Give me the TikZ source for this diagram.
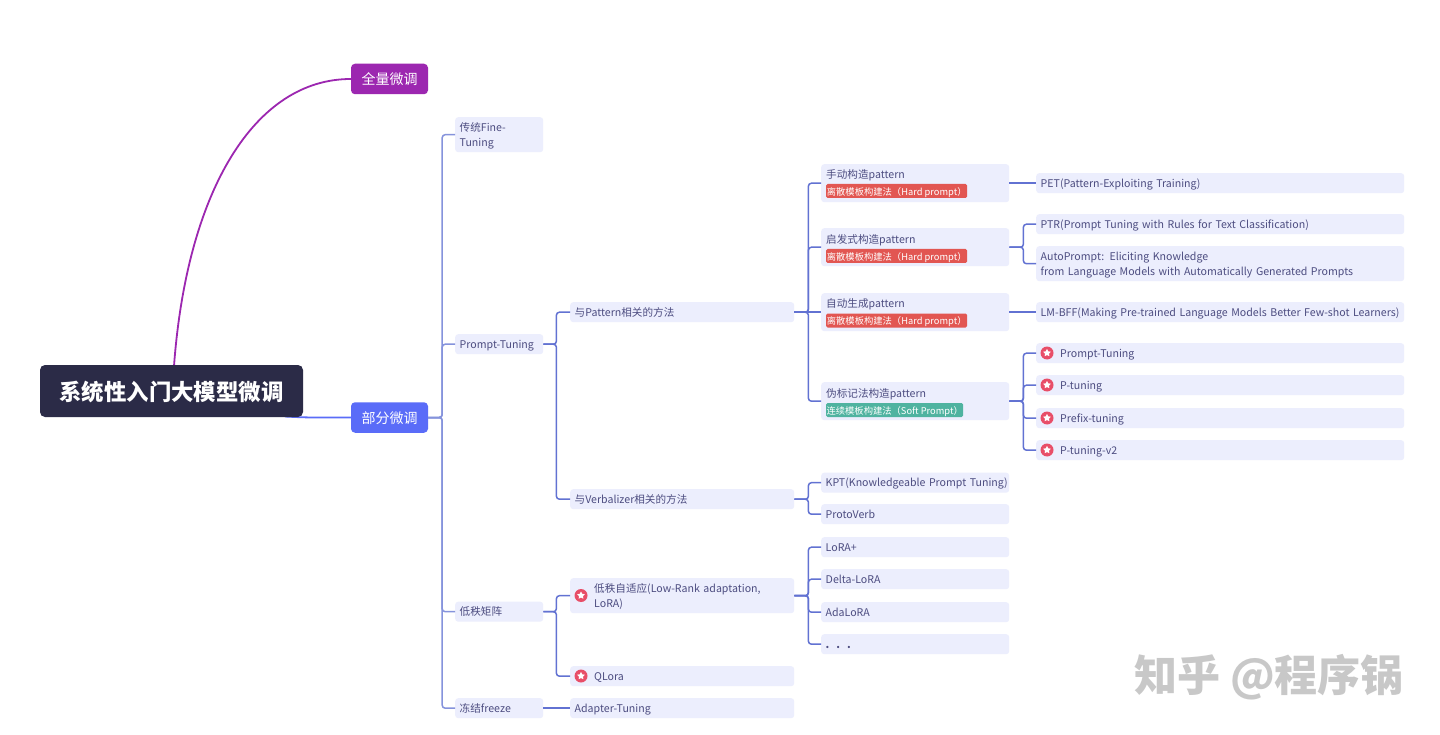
\documentclass[tikz,border=0pt]{standalone}
\usepackage{fontspec}
\setmainfont{Noto Sans CJK SC}
\usetikzlibrary{shapes.geometric}
\definecolor{boxfill}{HTML}{ECEEFD}
\definecolor{inktext}{HTML}{4C4C80}
\definecolor{rootdark}{HTML}{2B2B47}
\definecolor{purplemain}{HTML}{9C27B0}
\definecolor{bluemain}{HTML}{5A6CF8}
\definecolor{linec}{HTML}{6272D2}
\definecolor{trunkc}{HTML}{8593DC}
\definecolor{redtag}{HTML}{E25652}
\definecolor{greentag}{HTML}{4FB3A0}
\definecolor{iconred}{HTML}{E84E68}
\definecolor{markgray}{HTML}{C8C8C8}
\newcommand{\ico}{\hspace*{19.5pt}}
\newcommand{\strt}{\lineskiplimit=-10pt\relax\leavevmode\vrule height 11pt depth 3pt width 0pt\relax}
\newcommand{\brk}[3]{\draw[branch] (#1.east) -- ++(#3,0) |- (#2.west);}
\newcommand{\str}[2]{\draw[branch] (#1.east) -- (#2.west);}
\tikzset{
  x=1pt,y=-1pt,
  box/.style={fill=boxfill,rounded corners=3pt,anchor=north west,inner xsep=4.5pt,inner ysep=0pt,
    align=left,text=inktext,font=\fontsize{10.6}{14.5}\selectfont},
  lvb/.style={box,text width=79pt,minimum height=20pt},
  lvc/.style={box,text width=215pt,minimum height=20pt},
  lvd/.style={box,text width=179pt,minimum height=20pt},
  lve/.style={box,text width=359pt,minimum height=20pt},
  main/.style={rounded corners=4pt,text=white,minimum width=77pt,minimum height=30.5pt,inner sep=0pt,
    text height=13pt,text depth=2pt,font=\fontsize{14}{16}\selectfont},
  tagbox/.style={rounded corners=1.5pt,text=white,anchor=west,inner sep=0pt,minimum height=14pt,
    text height=9.7pt,text depth=1pt,font=\fontsize{9.3}{11}\selectfont},
  lab/.style={anchor=west,inner sep=0pt,text=inktext,font=\fontsize{10.6}{14}\selectfont},
  branch/.style={draw=linec,line width=1.5pt,rounded corners=3pt},
  trunk/.style={draw=trunkc,line width=1.5pt,rounded corners=3pt},
  icondisc/.style={circle,fill=iconred,minimum size=13pt,inner sep=0pt},
  iconstar/.style={star,star points=5,star point ratio=1.9,fill=white,minimum size=8pt,inner sep=0pt},
}
\begin{document}
\begin{tikzpicture}
\useasboundingbox[fill=white] (0,0) rectangle (1440,735);
% root and main branches
\coordinate (rt) at (174,366);
\coordinate (rb) at (285,416.5);
\node[main,fill=purplemain] (all) at (389.5,79) {全量微调};
\node[main,fill=bluemain] (part) at (389.5,417.5) {部分微调};
\draw[draw=purplemain,line width=1.8pt] (rt) .. controls (187,190) and (255,79) .. (all.west);
\draw[draw=bluemain,line width=1.8pt] (rb) .. controls (310,418) and (330,417.5) .. (part.west);
\node[rounded corners=5pt,fill=rootdark,text=white,minimum width=263pt,minimum height=52pt,inner sep=0pt,
  text height=21pt,text depth=3pt,font=\fontsize{22.4}{26}\selectfont\bfseries] (root) at (171.5,391) {系统性入门大模型微调};
% level 2
\node[lvb,minimum height=35pt] (ft) at (455,117) {\strt 传统Fine-\\Tuning};
\node[lvb] (pt) at (455,334) {\strt Prompt-Tuning};
\node[lvb] (lr) at (455,601.5) {\strt 低秩矩阵};
\node[lvb] (fz) at (455,698) {\strt 冻结freeze};
% level 3
\node[lvc] (pat) at (570,302) {\strt 与Pattern相关的方法};
\node[lvc] (ver) at (570,489) {\strt 与Verbalizer相关的方法};
\node[lvc,minimum height=35pt] (lra) at (570,578) {\strt\ico 低秩自适应(Low-Rank adaptation,\\\ico LoRA)};
\node[lvc] (ql) at (570,666) {\strt\ico QLora};
\node[lvc] (ad) at (570,698) {\strt Adapter-Tuning};
% level 4
\node[lvd,minimum height=38pt] (m1) at (821,164) {};
\node[lab] (m1l) at (826,175) {手动构造pattern};
\node[tagbox,fill=redtag,minimum width=141pt] (m1t) at (826,191) {离散模板构建法（Hard prompt）};
\node[lvd,minimum height=38pt] (m2) at (821,228) {};
\node[lab] (m2l) at (826,240) {启发式构造pattern};
\node[tagbox,fill=redtag,minimum width=141pt] (m2t) at (826,256) {离散模板构建法（Hard prompt）};
\node[lvd,minimum height=38pt] (m3) at (821,293) {};
\node[lab] (m3l) at (826,304) {自动生成pattern};
\node[tagbox,fill=redtag,minimum width=141pt] (m3t) at (826,320.5) {离散模板构建法（Hard prompt）};
\node[lvd,minimum height=38pt] (m4) at (821,382) {};
\node[lab] (m4l) at (826,394) {伪标记法构造pattern};
\node[tagbox,fill=greentag,minimum width=137pt] (m4t) at (826,410) {连续模板构建法（Soft Prompt）};
\node[lvd] (kpt) at (821,472.5) {\strt\mbox{KPT(Knowledgeable Prompt Tuning)}};
\node[lvd] (pv) at (821,504) {\strt ProtoVerb};
\node[lvd] (l1) at (821,537) {\strt LoRA+};
\node[lvd] (l2) at (821,569) {\strt Delta-LoRA};
\node[lvd] (l3) at (821,602) {\strt AdaLoRA};
\node[lvd] (l4) at (821,634) {\strt\textbf{.}\hspace{7pt}\textbf{.}\hspace{7pt}\textbf{.}};
% level 5
\node[lve] (pet) at (1036,173) {\strt PET(Pattern-Exploiting Training)};
\node[lve] (ptr) at (1036,214) {\strt PTR(Prompt Tuning with Rules for Text Classification)};
\node[lve,minimum height=35pt] (ap) at (1036,246) {\strt AutoPrompt: Eliciting Knowledge\\from Language Models with Automatically Generated Prompts};
\node[lve] (lm) at (1036,302) {\strt\mbox{LM-BFF(Making Pre-trained Language Models Better Few-shot Learners)}};
\node[lve] (s1) at (1036,343) {\strt\ico Prompt-Tuning};
\node[lve] (s2) at (1036,375) {\strt\ico P-tuning};
\node[lve] (s3) at (1036,408) {\strt\ico Prefix-tuning};
\node[lve] (s4) at (1036,440) {\strt\ico P-tuning-v2};
% icons
\foreach \nm/\px/\py in {ia/581/595.5,ib/581/676,ic/1047/353,id/1047/385,ie/1047/418,if/1047/450}{
  \node[icondisc] (\nm) at (\px,\py) {};
  \node[iconstar] at (\nm) {};
}
% connectors
\draw[trunk] (part.east) -- ++(14,0) |- (ft.west);
\draw[trunk] (part.east) -- ++(14,0) |- (pt.west);
\draw[trunk] (part.east) -- ++(14,0) |- (lr.west);
\draw[trunk] (part.east) -- ++(14,0) |- (fz.west);
\brk{pt}{pat}{13}
\brk{pt}{ver}{13}
\brk{lr}{lra}{13}
\brk{lr}{ql}{13}
\str{fz}{ad}
\brk{pat}{m1}{14}
\brk{pat}{m2}{14}
\brk{pat}{m4}{14}
\str{pat}{m3}
\brk{ver}{kpt}{14}
\brk{ver}{pv}{14}
\brk{lra}{l1}{14}
\brk{lra}{l2}{14}
\brk{lra}{l3}{14}
\brk{lra}{l4}{14}
\str{m1}{pet}
\brk{m2}{ptr}{14}
\brk{m2}{ap}{14}
\str{m3}{lm}
\brk{m4}{s1}{14}
\brk{m4}{s2}{14}
\brk{m4}{s3}{14}
\brk{m4}{s4}{14}
% watermark
\node[anchor=center,inner sep=0pt,text=markgray,font=\fontsize{43}{47}\selectfont\bfseries] (wm) at (1269,677) {知乎 @程序锅};
\end{tikzpicture}
\end{document}
